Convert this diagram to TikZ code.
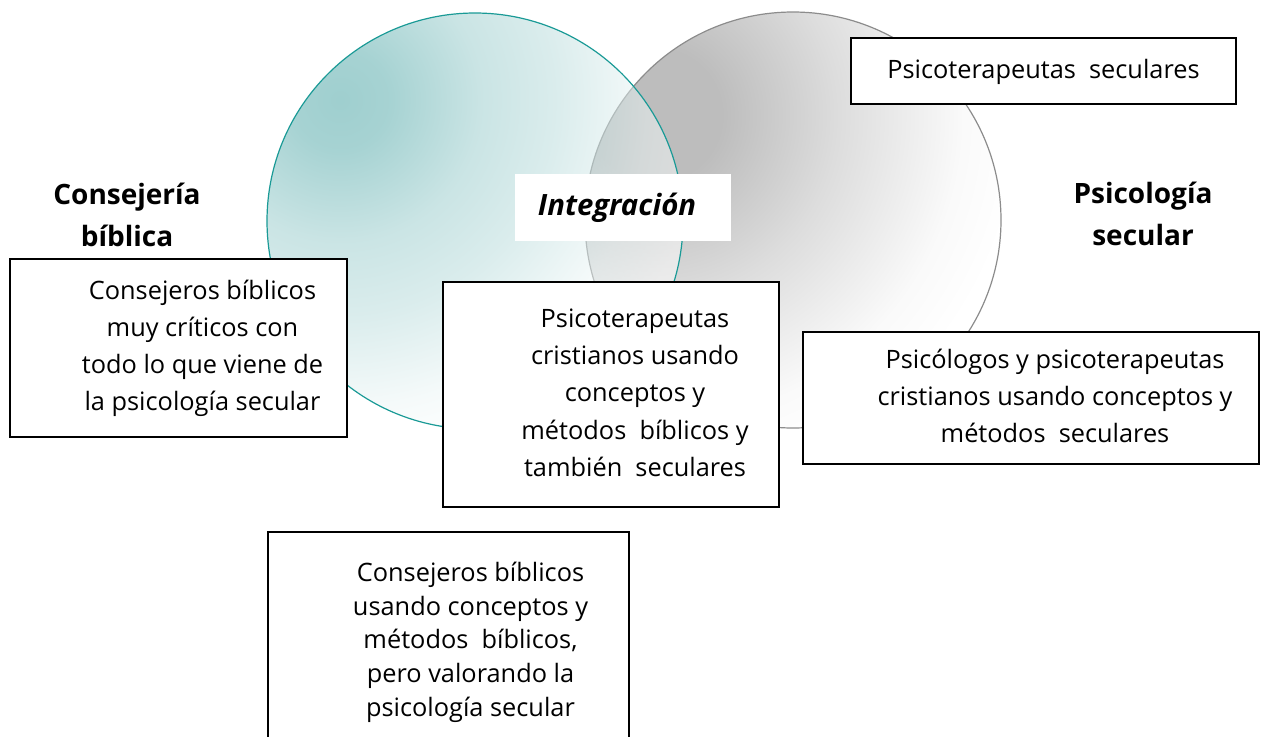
\documentclass[tikz,border=0pt]{standalone}
\usepackage{fontspec}
\setmainfont{Open Sans}
\usepackage{tikz}
\tikzset{every picture/.append style={font=\fontsize{19}{27.75}\selectfont}}
\definecolor{bibteal}{HTML}{1A9A96}
\definecolor{bibfill}{HTML}{3F9F9F}
\definecolor{secline}{HTML}{8C8C8C}
\definecolor{secfill}{HTML}{BDBDBD}
\pgfdeclareradialshading{bibshade}{\pgfpoint{0bp}{0bp}}{color(0bp)=(bibfill); color(3bp)=(bibfill!92);
  color(8.5bp)=(bibfill!55); color(13bp)=(bibfill!38); color(18.5bp)=(bibfill!10); color(22bp)=(white); color(50bp)=(white)}
\pgfdeclareradialshading{secshade}{\pgfpoint{0bp}{0bp}}{color(0bp)=(secfill); color(4bp)=(secfill);
  color(11bp)=(secfill!52); color(18.5bp)=(secfill!8); color(22bp)=(white); color(50bp)=(white)}
\tikzset{
  venn/.style={circle,minimum size=312pt,inner sep=0pt},
  txtbox/.style={draw=black,line width=1.1pt,fill=white,inner sep=0pt},
  heading/.style={font=\fontsize{21}{31.5}\selectfont\bfseries,align=center}
}
% spacer, line spacing, lines
\newcommand{\boxlines}[3]{\hspace*{#1}{\fontsize{19}{#2}\selectfont\begin{tabular}{@{}c@{}}#3\end{tabular}}}

\begin{document}
\begin{tikzpicture}[x=0.75pt,y=-0.75pt]
    \clip (0,0) rectangle (1262,736);
    % circles
    \node[venn] (circsec) at (793,220) {};
    \node[venn] (circbib) at (475,221) {};
    \begin{scope}
      \clip (circsec.center) circle (156pt);
      \shade[shading=secshade] (655,115) circle (312pt);
    \end{scope}
    \draw[secline,line width=0.9pt] (circsec.center) circle (156pt);
    \begin{scope}
      \clip (circbib.center) circle (156pt);
      \shade[shading=bibshade,fill opacity=0.5] (340,100) circle (312pt);
    \end{scope}
    \draw[bibteal,line width=0.9pt] (circbib.center) circle (156pt);
    % labels
    \node[heading] (lblbib) at (127,215) {Consejería\\bíblica};
    \node[heading] (lblsec) at (1143,214) {Psicología\\secular};
    \node[fill=white,inner sep=0pt,minimum width=162pt,minimum height=50.25pt,
          font=\fontsize{22}{24}\selectfont\bfseries\itshape] (lblint) at (623,207.5) {Integración\hspace*{9pt}};
    % boxes
    \node[txtbox,minimum width=288.75pt,minimum height=49.5pt] (boxsec) at (1043.5,71)
      {\boxlines{0pt}{27.75pt}{Psicoterapeutas\ \ seculares}};
    \node[txtbox,minimum width=252.75pt,minimum height=133.5pt] (boxcrit) at (178.5,348)
      {\boxlines{36pt}{27.75pt}{Consejeros bíblicos\\muy críticos con\\todo lo que viene de\\la psicología secular}};
    \node[txtbox,minimum width=252pt,minimum height=168.75pt] (boxint) at (611,394.5)
      {\boxlines{36pt}{28pt}{Psicoterapeutas\\cristianos usando\\conceptos y\\métodos\ \ bíblicos y\\también\ \ seculares}};
    \node[txtbox,minimum width=342pt,minimum height=99pt] (boxpsi) at (1031,398)
      {\boxlines{36pt}{27.75pt}{Psicólogos y psicoterapeutas\\cristianos usando conceptos y\\métodos\ \ seculares}};
    \node[txtbox,minimum width=270.75pt,minimum height=165pt] (boxval) at (448.5,642)
      {\boxlines{33pt}{25.3pt}{Consejeros bíblicos\\usando conceptos y\\métodos\ \ bíblicos,\\pero valorando la\\psicología secular}};
  \end{tikzpicture}
\end{document}
